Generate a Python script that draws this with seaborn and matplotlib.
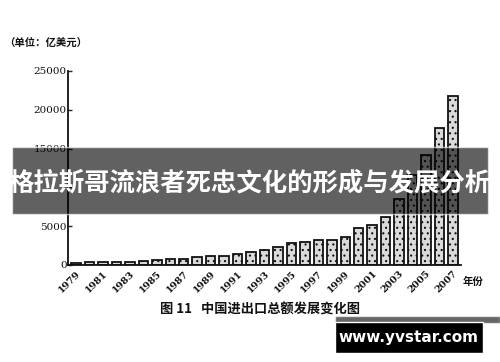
import numpy as np
import pandas as pd
import matplotlib
matplotlib.use("Agg")
import matplotlib.pyplot as plt
import seaborn as sns
from matplotlib.patches import Rectangle

# China total import/export value, 100 million USD
years = list(range(1979, 2008))
trade_total = [293, 381, 440, 416, 436, 535, 696, 738, 827, 1028,
               1117, 1154, 1357, 1655, 1957, 2366, 2809, 2899, 3252, 3240,
               3606, 4743, 5097, 6208, 8510, 11546, 14219, 17604, 21737]
y_ticks = [0, 5000, 10000, 15000, 20000, 25000]
y_tick_labels = ["0", "5000", "", "15000", "20000", "25000"]  # 10000 hidden by banner
x_tick_years = years[::2]

unit_text = "（单位：亿美元）"
x_unit_text = "年份"
caption_text = "图 11   中国进出口总额发展变化图"
banner_text = "格拉斯哥流浪者死忠文化的形成与发展分析"
site_text = "www.yvstar.com"

sns.set_theme(style="white")
plt.rcParams['font.family'] = ['Noto Sans CJK SC', 'DejaVu Sans']
plt.rcParams['hatch.linewidth'] = 0.8

df = pd.DataFrame({"year": [str(y) for y in years], "total": trade_total})

fig = plt.figure(figsize=(5.0, 3.62), dpi=100)
ax = fig.add_axes([0.136, 0.268, 0.786, 0.536])

sns.barplot(data=df, x="year", y="total", ax=ax, color="#dadada",
            edgecolor="#111111", linewidth=1.3, width=0.7, saturation=1)
for p in ax.patches:
    p.set_hatch("...")

ax.set_ylim(0, 25000)
ax.set_xlim(-0.6, len(years) - 0.4)
ax.set_yticks(y_ticks)
ax.set_yticklabels(y_tick_labels, family="DejaVu Serif",
                   fontsize=7.5, color="#111111")
pos = [years.index(y) for y in x_tick_years]
ax.set_xticks(pos)
ax.set_xticklabels([str(y) for y in x_tick_years], rotation=45, ha="right",
                   rotation_mode="anchor", family="DejaVu Serif",
                   fontsize=7, fontweight="bold", color="#111111")
ax.tick_params(axis="y", direction="in", length=3, width=1, pad=1, left=True)
ax.tick_params(axis="x", length=0, pad=3)
ax.set_xlabel("")
ax.set_ylabel("")
for s in ["top", "right"]:
    ax.spines[s].set_visible(False)
for s in ["left", "bottom"]:
    ax.spines[s].set_color("#111111")
    ax.spines[s].set_linewidth(1.3)

fig.text(0.008, 0.873, unit_text, fontsize=7.5, fontweight="bold", color="#111111")
fig.text(0.925, 0.213, x_unit_text, fontsize=7.5, fontweight="bold", color="#111111")
fig.text(0.52, 0.133, caption_text, fontsize=9.5, fontweight="bold",
         color="#111111", ha="center")

# overlay banner
fig.patches.append(Rectangle((0.024, 0.409), 0.952, 0.185, transform=fig.transFigure,
                             facecolor="black", alpha=0.62, zorder=5))
fig.text(0.5, 0.494, banner_text, fontsize=18.3, fontweight="bold", color="white",
         ha="center", va="center", zorder=6)

# watermark
fig.patches.append(Rectangle((0.67, 0.108), 0.33, 0.019, transform=fig.transFigure,
                             facecolor="black", alpha=0.6, zorder=5))
fig.patches.append(Rectangle((0.67, 0.025), 0.295, 0.085, transform=fig.transFigure,
                             facecolor="black", zorder=5))
fig.text(0.817, 0.068, site_text, fontsize=11, fontweight="bold", color="white",
         family="DejaVu Sans", ha="center", va="center", zorder=6)

fig.savefig("out.png", dpi=100, facecolor="white")
